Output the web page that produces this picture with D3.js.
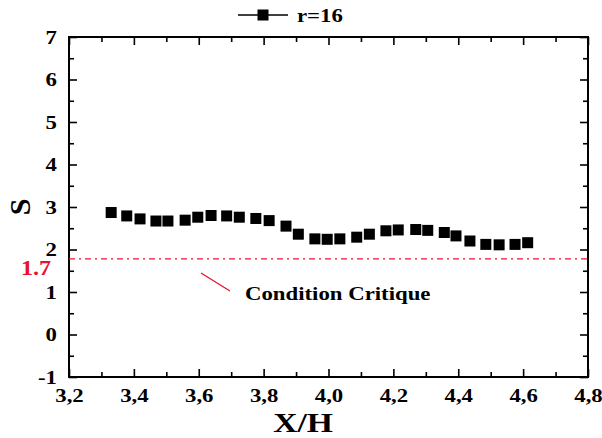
<!doctype html>
<html lang="fr">
<head>
  <meta charset="utf-8">
  <title>S en fonction de X/H</title>
  <script type="text/javascript" src="https://cdnjs.cloudflare.com/ajax/libs/d3/7.8.5/d3.min.js"></script>
  <style>
    body { margin: 0; background: #fff; }
  </style>
</head>
<body>
  <svg width="602" height="438" id="svg"></svg>

<script type="text/javascript">

	// valeurs
	var xh = [3.33, 3.378, 3.419, 3.468, 3.505, 3.558, 3.597, 3.638, 3.686, 3.725,
		3.776, 3.817, 3.869, 3.907, 3.958, 3.996, 4.035, 4.087, 4.126, 4.177,
		4.215, 4.269, 4.306, 4.357, 4.393, 4.436, 4.485, 4.526, 4.575, 4.614];
	var s = [2.87, 2.79, 2.72, 2.67, 2.67, 2.69, 2.76, 2.80, 2.79, 2.76,
		2.73, 2.68, 2.55, 2.36, 2.25, 2.24, 2.25, 2.29, 2.36, 2.44,
		2.46, 2.47, 2.45, 2.40, 2.32, 2.20, 2.12, 2.11, 2.12, 2.16];

	var seriesName = 'r=16';
	var critValue = 1.78;      // position du trait sur la figure
	var critLabel = '1.7';
	var critText = 'Condition Critique';

	var xMajor = [3.2, 3.4, 3.6, 3.8, 4.0, 4.2, 4.4, 4.6, 4.8];
	var xMinor = [3.3, 3.5, 3.7, 3.9, 4.1, 4.3, 4.5, 4.7];
	var yMajor = [-1, 0, 1, 2, 3, 4, 5, 6, 7];
	var yMinor = [-0.5, 0.5, 1.5, 2.5, 3.5, 4.5, 5.5, 6.5];

	var pLeft = 69, pRight = 588, pTop = 37, pBottom = 377;
	var red = '#e8122f';
	var font = "'Liberation Serif', 'Times New Roman', Times, serif";
	var stretch = 1.2;   // la figure d'origine est un peu etiree en largeur

	var x = d3.scaleLinear().domain([3.2, 4.8]).range([pLeft, pRight]);
	var y = d3.scaleLinear().domain([-1, 7]).range([pBottom, pTop]);

	var svg = d3.select('#svg');

	var fmtX = function(d) { return d3.format('.1f')(d).replace('.', ','); };

	function label(sel, size) {
		return sel.style('font-family', font).style('font-weight', 'bold').style('font-size', size + 'px');
	}

	/* axes: graduations vers l'interieur, miroir en haut et a droite */
	function styleAxis(g) {
		g.attr('font-family', null).attr('font-size', null);
		g.select('.domain').remove();
		g.selectAll('line').attr('stroke', '#000').attr('stroke-width', 1.6);
		g.selectAll('text').attr('fill', '#000').call(label, 19)
			.each(function() {
				var t = d3.select(this);
				var tx = +t.attr('x') || 0;
				t.attr('x', 0).attr('transform', 'translate(' + tx + ',0) scale(' + stretch + ',1)');
			});
	}

	svg.append('g').attr('transform', 'translate(0,' + pBottom + ')')
		.call(d3.axisBottom(x).tickValues(xMajor).tickSizeInner(-8).tickPadding(12).tickFormat(fmtX))
		.call(styleAxis);
	svg.append('g').attr('transform', 'translate(0,' + pBottom + ')')
		.call(d3.axisBottom(x).tickValues(xMinor).tickSizeInner(-5).tickFormat(''))
		.call(styleAxis);
	svg.append('g').attr('transform', 'translate(0,' + pTop + ')')
		.call(d3.axisTop(x).tickValues(xMajor).tickSizeInner(-8).tickFormat(''))
		.call(styleAxis);
	svg.append('g').attr('transform', 'translate(0,' + pTop + ')')
		.call(d3.axisTop(x).tickValues(xMinor).tickSizeInner(-5).tickFormat(''))
		.call(styleAxis);

	svg.append('g').attr('transform', 'translate(' + pLeft + ',0)')
		.call(d3.axisLeft(y).tickValues(yMajor).tickSizeInner(-8).tickPadding(12).tickFormat(function(d) { return String(d); }))
		.call(styleAxis);
	svg.append('g').attr('transform', 'translate(' + pLeft + ',0)')
		.call(d3.axisLeft(y).tickValues(yMinor).tickSizeInner(-5).tickFormat(''))
		.call(styleAxis);
	svg.append('g').attr('transform', 'translate(' + pRight + ',0)')
		.call(d3.axisRight(y).tickValues(yMajor).tickSizeInner(-8).tickFormat(''))
		.call(styleAxis);
	svg.append('g').attr('transform', 'translate(' + pRight + ',0)')
		.call(d3.axisRight(y).tickValues(yMinor).tickSizeInner(-5).tickFormat(''))
		.call(styleAxis);

	// cadre
	svg.append('rect')
		.attr('x', pLeft).attr('y', pTop)
		.attr('width', pRight - pLeft).attr('height', pBottom - pTop)
		.attr('fill', 'none').attr('stroke', '#000').attr('stroke-width', 2);

	function place(px, py, extra) {
		return 'translate(' + px + ',' + py + ')' + (extra || '') + ' scale(' + stretch + ',1)';
	}

	// seuil critique
	svg.append('line')
		.attr('x1', pLeft).attr('x2', pRight)
		.attr('y1', y(critValue)).attr('y2', y(critValue))
		.attr('stroke', red).attr('stroke-width', 1.2)
		.attr('stroke-dasharray', '6,4,2,4');

	svg.append('text')
		.attr('transform', place(51, y(critValue) + 16))
		.attr('text-anchor', 'end')
		.attr('fill', red)
		.call(label, 20)
		.text(critLabel);

	svg.append('line')
		.attr('x1', 201).attr('y1', 273)
		.attr('x2', 230).attr('y2', 291)
		.attr('stroke', red).attr('stroke-width', 1.3);

	svg.append('text')
		.attr('transform', place(245, 300))
		.attr('fill', '#000')
		.call(label, 19)
		.text(critText);

	// points
	var pts = xh.map(function(d, i) { return [d, s[i]]; });
	var ms = 11;
	svg.append('g').selectAll('rect').data(pts).enter().append('rect')
		.attr('x', function(d) { return x(d[0]) - ms / 2; })
		.attr('y', function(d) { return y(d[1]) - ms / 2; })
		.attr('width', ms).attr('height', ms)
		.attr('fill', '#000');

	// legende
	var lg = svg.append('g').attr('transform', 'translate(238,15)');
	lg.append('line').attr('x1', 0).attr('x2', 50).attr('y1', 0).attr('y2', 0)
		.attr('stroke', '#000').attr('stroke-width', 1.6);
	lg.append('rect').attr('x', 25 - ms / 2).attr('y', -ms / 2)
		.attr('width', ms).attr('height', ms).attr('fill', '#000');
	lg.append('text').attr('transform', place(59, 7))
		.attr('fill', '#000')
		.call(label, 19)
		.text(seriesName);

	// titres des axes
	svg.append('text')
		.attr('transform', place(303, 432))
		.attr('text-anchor', 'middle')
		.call(label, 28)
		.text('X/H');

	svg.append('text')
		.attr('transform', 'translate(30,' + y(3) + ') rotate(-90)')
		.attr('text-anchor', 'middle')
		.call(label, 30)
		.text('S');

</script>
</body>
</html>
